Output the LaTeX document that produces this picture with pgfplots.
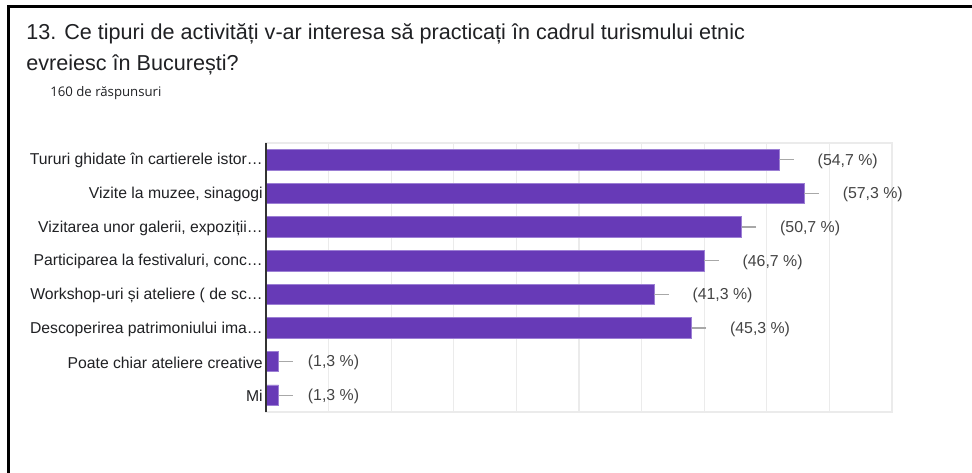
\documentclass[border=0pt]{standalone}
\usepackage{fontspec}
\setmainfont{Liberation Sans}
\newfontfamily\opensans{Open Sans}
\usepackage{pgfplots}
\usepackage{pgfplotstable}
\pgfplotsset{compat=1.18}

\definecolor{gfpurple}{HTML}{673AB7}
\definecolor{gfedge}{HTML}{9C7FD4}
\definecolor{gridc}{HTML}{EBEBEB}
\definecolor{whisk}{HTML}{A8A8A8}
\definecolor{txt}{HTML}{202124}
\definecolor{lbl}{HTML}{444444}

% answers (count of 75) and shown percentage
\pgfplotstableread{
cnt pos err lab
41 0 1.15 54,7
43 1 1.15 57,3
38 2 1.15 50,7
35 3 1.15 46,7
31 4 1.15 41,3
34 5 1.15 45,3
}\bigbars
\pgfplotstableread{
cnt pos err lab
1 6 1.15 1,3
1 7 1.15 1,3
}\smallbars

\begin{document}
\begin{tikzpicture}
\useasboundingbox (0,0) rectangle (729pt,354.75pt);
\fill[white] (0,0) rectangle (729pt,354.75pt);
\draw[line width=2.25pt, black] (6.5pt,0pt) -- (6.5pt,349.75pt) -- (729pt,349.75pt);

\node[anchor=base west, inner sep=0pt, text=txt, font=\fontsize{16.2}{20}\selectfont]
  at (19.5pt,324.75pt) {13. Ce tipuri de activități v-ar interesa să practicați în cadrul turismului etnic};
\node[anchor=base west, inner sep=0pt, text=txt, font=\fontsize{16.2}{20}\selectfont]
  at (19.5pt,301.5pt) {evreiesc în București?};
\node[anchor=base west, inner sep=0pt, text=txt, font=\opensans\fontsize{9.9}{12}\selectfont]
  at (37.5pt,282pt) {160 de răspunsuri};

\begin{axis}[
  at={(199.5pt,45.75pt)}, anchor=south west,
  scale only axis, width=469.5pt, height=201.75pt,
  xmin=0, xmax=50, ymin=-0.5, ymax=7.5, y dir=reverse,
  xbar, bar width=15.4pt, bar shift=0pt,
  xtick={0,5,...,50}, xticklabels={},
  xmajorgrids, grid style={gridc, line width=0.9pt},
  ytick={0,...,7},
  yticklabels={{Tururi ghidate în cartierele istor…},{Vizite la muzee, sinagogi},
    {Vizitarea unor galerii, expoziții…},{Participarea la festivaluri, conc…},
    {Workshop-uri și ateliere ( de sc…},{Descoperirea patrimoniului ima…},
    {Poate chiar ateliere creative},{Mi}},
  major tick length=0pt,
  axis line style={gridc, line width=0.9pt},
  yticklabel style={font=\fontsize{11.8}{14}\selectfont, text=txt, inner sep=0pt,
    xshift=-2.3pt, yshift=-0.8pt},
  clip=false,
  point meta=explicit symbolic,
  nodes near coords={(\pgfplotspointmeta~\%)},
  every node near coord/.append style={anchor=west, inner sep=0pt, text=lbl,
    font=\fontsize{11.9}{14}\selectfont, yshift=-1pt},
  error bars/x dir=plus, error bars/x explicit, error bars/error mark=none,
  error bars/error bar style={whisk, line width=1pt},
]
\addplot[fill=gfpurple, draw=gfedge, line width=0.6pt,
  every node near coord/.append style={xshift=28.5pt}]
  table[x=cnt, y=pos, x error=err, meta=lab] {\bigbars};
\addplot[fill=gfpurple, draw=gfedge, line width=0.6pt,
  every node near coord/.append style={xshift=21.75pt}]
  table[x=cnt, y=pos, x error=err, meta=lab] {\smallbars};
\draw[black!80, line width=1pt] (rel axis cs:0,0) -- (rel axis cs:0,1);
\end{axis}
\end{tikzpicture}
\end{document}
